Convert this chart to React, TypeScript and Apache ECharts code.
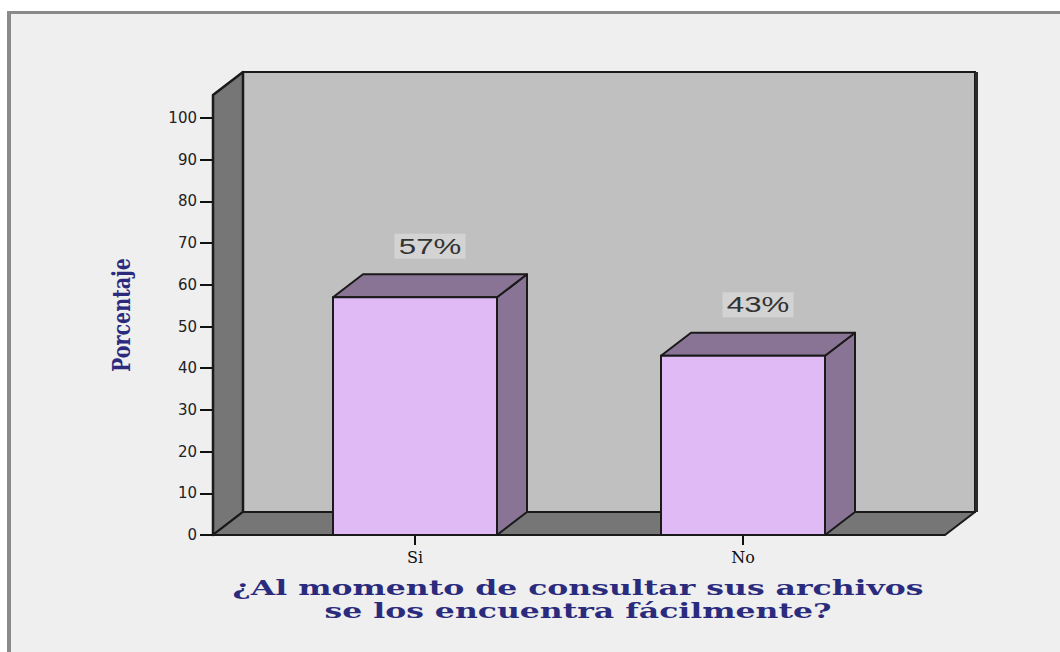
import React, { useEffect, useRef } from 'react';
import * as echarts from 'echarts';

const categories = ['Si', 'No'];
const percentages = [57, 43];
const yMin = 0;
const yMax = 100;
const yStep = 10;
const yAxisTitle = 'Porcentaje';
const xAxisTitleLines = ['¿Al momento de consultar sus archivos', 'se los encuentra fácilmente?'];

const DX = 30;
const DY = 23;
const EXT = 38;
const NAVY = '#2b2b7e';

export default function App() {
  const ref = useRef<HTMLDivElement>(null);

  useEffect(() => {
    const chart = echarts.init(ref.current as HTMLDivElement, null, { renderer: 'svg' });

    const wallsRender = (params: any, api: any) => {
      const cs = params.coordSys;
      const y0 = api.coord([0, yMin])[1];
      const yTop = api.coord([0, yMax])[1] - DY;
      const x0 = cs.x - EXT;
      const x1 = cs.x + cs.width + EXT;
      return {
        type: 'group',
        children: [
          {
            type: 'rect',
            shape: { x: x0 + DX, y: yTop - DY, width: x1 - x0, height: y0 - yTop },
            style: { fill: '#c0c0c0', stroke: '#1a1a1a', lineWidth: 2 },
          },
          {
            type: 'line',
            shape: { x1: x1 + DX + 1.5, y1: yTop - DY, x2: x1 + DX + 1.5, y2: y0 - DY },
            style: { stroke: '#2a2a2a', lineWidth: 3 },
          },
          {
            type: 'polygon',
            shape: { points: [[x0, y0], [x0, yTop], [x0 + DX, yTop - DY], [x0 + DX, y0 - DY]] },
            style: { fill: '#767676', stroke: '#1a1a1a', lineWidth: 2.5, lineJoin: 'round' },
          },
          {
            type: 'polygon',
            shape: { points: [[x0, y0], [x0 + DX, y0 - DY], [x1 + DX, y0 - DY], [x1, y0]] },
            style: { fill: '#767676', stroke: '#1a1a1a', lineWidth: 2, lineJoin: 'round' },
          },
        ],
      };
    };

    const barsRender = (params: any, api: any) => {
      const idx = api.value(0);
      const v = api.value(1);
      const top = api.coord([idx, v]);
      const yb = api.coord([idx, 0])[1];
      const cx = top[0];
      const yt = top[1];
      const hw = api.size([1, 0])[0] * 0.25;
      const l = cx - hw;
      const r = cx + hw;
      return {
        type: 'group',
        children: [
          {
            type: 'polygon',
            shape: { points: [[r, yt], [r + DX, yt - DY], [r + DX, yb - DY], [r, yb]] },
            style: { fill: '#8a7496', stroke: '#1a1a1a', lineWidth: 2, lineJoin: 'round' },
          },
          {
            type: 'polygon',
            shape: { points: [[l, yt], [l + DX, yt - DY], [r + DX, yt - DY], [r, yt]] },
            style: { fill: '#8a7496', stroke: '#1a1a1a', lineWidth: 2, lineJoin: 'round' },
          },
          {
            type: 'rect',
            shape: { x: l, y: yt, width: r - l, height: yb - yt },
            style: { fill: '#e0baf4', stroke: '#1a1a1a', lineWidth: 2 },
          },
          {
            type: 'text',
            x: cx + DX / 2,
            y: yt - DY - 28,
            scaleX: 1.42,
            style: {
              text: v + '%',
              fontFamily: 'Liberation Sans',
              fontSize: 22,
              fill: '#333333',
              align: 'center',
              verticalAlign: 'middle',
              backgroundColor: '#d3d3d3',
              padding: [2, 3, 1, 3],
            },
          },
        ],
      };
    };

    const option: any = {
      animation: false,
      backgroundColor: '#efefef',
      grid: { left: 251, right: 153, top: 118, bottom: 117 },
      xAxis: {
        type: 'category',
        data: categories,
        axisLine: { show: false },
        axisTick: { show: true, alignWithLabel: true, length: 10, lineStyle: { color: '#111', width: 2 } },
        axisLabel: { margin: 14, fontFamily: 'DejaVu Serif', fontSize: 16, color: '#111' },
        splitLine: { show: false },
      },
      yAxis: {
        type: 'value',
        min: yMin,
        max: yMax,
        interval: yStep,
        offset: EXT,
        axisLine: { show: false },
        axisTick: { show: true, length: 13, lineStyle: { color: '#111', width: 2 } },
        axisLabel: { margin: 16, fontFamily: 'DejaVu Sans', fontSize: 15, color: '#222' },
        splitLine: { show: false },
      },
      graphic: [
        { type: 'rect', shape: { x: 0, y: 0, width: 1060, height: 11 }, style: { fill: '#ffffff' } },
        { type: 'rect', shape: { x: 0, y: 0, width: 7, height: 652 }, style: { fill: '#ffffff' } },
        { type: 'line', shape: { x1: 7, y1: 12.5, x2: 1060, y2: 12.5 }, style: { stroke: '#8a8a8a', lineWidth: 3 } },
        { type: 'line', shape: { x1: 9, y1: 11, x2: 9, y2: 652 }, style: { stroke: '#8a8a8a', lineWidth: 4 } },
        {
          type: 'text',
          x: 121,
          y: 315,
          rotation: Math.PI / 2,
          scaleY: 1.3,
          style: {
            text: yAxisTitle,
            fontFamily: 'DejaVu Serif',
            fontWeight: 'bold',
            fontSize: 19,
            fill: NAVY,
            align: 'center',
            verticalAlign: 'middle',
          },
        },
        ...xAxisTitleLines.map((t, i) => ({
          type: 'text',
          x: 578,
          y: 588 + i * 23,
          scaleX: 1.5,
          style: {
            text: t,
            fontFamily: 'DejaVu Serif',
            fontWeight: 'bold',
            fontSize: 21,
            fill: NAVY,
            align: 'center',
            verticalAlign: 'middle',
          },
        })),
      ],
      series: [
        { type: 'custom', renderItem: wallsRender, data: [[0, 0]], clip: false, silent: true, z: 1 },
        { type: 'custom', renderItem: barsRender, data: percentages.map((v, i) => [i, v]), clip: false, z: 3 },
      ],
    };

    chart.setOption(option);
    return () => chart.dispose();
  }, []);

  return (
    <div
      ref={ref}
      style={{ position: 'absolute', left: 0, top: 0, width: 1060, height: 652 }}
    />
  );
}
